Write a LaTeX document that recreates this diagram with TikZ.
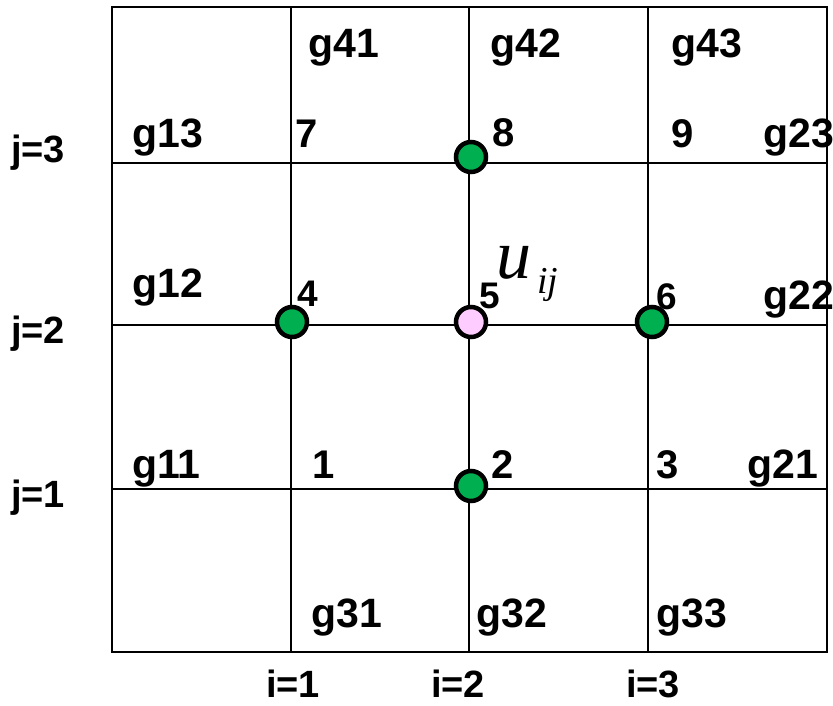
\documentclass[tikz,border=0pt]{standalone}
\usepackage{fontspec}
\setmainfont{Liberation Sans}
\newfontfamily\serfont{Liberation Serif}
\definecolor{ptgreen}{HTML}{00B050}
\definecolor{ptpink}{HTML}{FFCCFF}
\tikzset{
  gridline/.style={line width=2pt, black},
  glab/.style={anchor=base west, inner sep=0pt, font=\fontsize{41}{48}\selectfont\bfseries},
  nlab/.style={anchor=base west, inner sep=0pt, font=\fontsize{40}{48}\selectfont\bfseries},
  slab/.style={anchor=base west, inner sep=0pt, font=\fontsize{37}{44}\selectfont\bfseries},
  axlab/.style={anchor=base west, inner sep=0pt, font=\fontsize{38}{44}\selectfont\bfseries},
  gdot/.style={circle, draw=black, line width=4.5pt, fill=ptgreen, minimum size=30pt, inner sep=0pt},
  pdot/.style={circle, draw=black, line width=4.5pt, fill=ptpink, minimum size=30pt, inner sep=0pt},
}
\begin{document}
\begin{tikzpicture}[x=1pt, y=-1pt]
\useasboundingbox (0,0) rectangle (833,706);
% grid coordinates
\coordinate (t0) at (112,7);   \coordinate (b0) at (112,652);
\coordinate (t1) at (291,7);   \coordinate (b1) at (291,652);
\coordinate (t2) at (469,7);   \coordinate (b2) at (469,652);
\coordinate (t3) at (648,7);   \coordinate (b3) at (648,652);
\coordinate (t4) at (827,7);   \coordinate (b4) at (827,652);
\coordinate (l1) at (112,163); \coordinate (r1) at (827,163);
\coordinate (l2) at (112,325); \coordinate (r2) at (827,325);
\coordinate (l3) at (112,489); \coordinate (r3) at (827,489);
\draw[gridline] (t0) rectangle (b4);
\draw[gridline] (t1) -- (b1);
\draw[gridline] (t2) -- (b2);
\draw[gridline] (t3) -- (b3);
\draw[gridline] (l1) -- (r1);
\draw[gridline] (l2) -- (r2);
\draw[gridline] (l3) -- (r3);
% g labels
\node[glab] (g41) at (308,58) {g41};
\node[glab] (g42) at (490,58) {g42};
\node[glab] (g43) at (671,58) {g43};
\node[glab] (g13) at (132,148) {g13};
\node[glab] (g23) at (763,148) {g23};
\node[glab] (g12) at (132,297) {g12};
\node[glab] (g22) at (763,309) {g22};
\node[glab] (g11) at (132,478) {g11};
\node[glab] (g21) at (747,478) {g21};
\node[glab] (g31) at (311,627) {g31};
\node[glab] (g32) at (476,627) {g32};
\node[glab] (g33) at (656,627) {g33};
% number labels
\node[nlab] (n7) at (295,148) {7};
\node[nlab] (n8) at (492,147) {8};
\node[nlab] (n9) at (671,148) {9};
\node[slab] (n4) at (297,306) {4};
\node[slab] (n5) at (479,308) {5};
\node[slab] (n6) at (656,309) {6};
\node[nlab] (n1) at (312,478) {1};
\node[nlab] (n2) at (491,478) {2};
\node[nlab] (n3) at (656,478) {3};
% u_ij
\node[anchor=base west, inner sep=0pt, font=\fontsize{70}{76}\selectfont\serfont\itshape] (u) at (496,278) {u};
\node[anchor=base west, inner sep=0pt, font=\fontsize{38}{44}\selectfont\serfont\itshape] (ij) at (537,293) {ij};
% axis labels
\node[axlab] (j3) at (11,163) {j=3};
\node[axlab] (j2) at (11,343) {j=2};
\node[axlab] (j1) at (11,507) {j=1};
\node[axlab] (i1) at (266,697) {i=1};
\node[axlab] (i2) at (431,697) {i=2};
\node[axlab] (i3) at (626,697) {i=3};
% dots
\node[gdot] (d8) at (471,157) {};
\node[gdot] (d4) at (292,322) {};
\node[pdot] (d5) at (471,322) {};
\node[gdot] (d6) at (652,322) {};
\node[gdot] (d2) at (471,486) {};
\end{tikzpicture}
\end{document}
